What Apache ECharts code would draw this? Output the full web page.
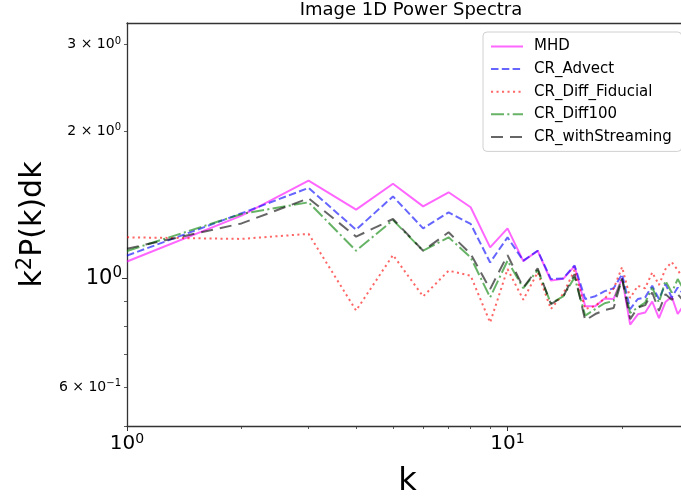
<!DOCTYPE html>
<html>
<head>
<meta charset="utf-8">
<script src="https://cdn.jsdelivr.net/npm/echarts@6/dist/echarts.min.js"></script>
<style>html,body{margin:0;padding:0;background:#fff;}#c{width:681px;height:497px;}</style>
</head>
<body>
<div id="c"></div>
<script>
// ---- data ----
const k = [1,2,3,4,5,6,7,8,9,10,11,12,13,14,15,16,17,18,19,20,21,22,23,24,25,26,27,28,29];
const MHD = [1.083,1.343,1.584,1.382,1.56,1.403,1.499,1.397,1.157,1.265,1.085,1.139,0.99,0.998,1.06,0.878,0.878,0.91,0.908,1.0,0.805,0.845,0.852,0.897,0.83,0.895,0.918,0.846,0.88];
const CR_Advect = [1.113,1.358,1.53,1.257,1.47,1.265,1.364,1.292,1.078,1.213,1.087,1.139,0.997,1.0,1.063,0.908,0.92,0.942,0.955,1.02,0.866,0.908,0.915,0.966,0.908,0.974,0.915,0.958,0.93];
const CR_Diff_Fiducial = [1.213,1.204,1.233,0.86,1.116,0.919,1.037,1.013,0.813,1.045,0.905,1.029,0.866,0.93,1.041,0.866,0.879,0.91,0.953,1.055,0.912,0.966,0.955,1.029,0.97,1.045,1.08,1.04,1.0];
const CR_Diff100 = [1.138,1.354,1.43,1.139,1.315,1.139,1.213,1.104,0.915,1.087,0.955,1.04,0.89,0.919,1.005,0.84,0.866,0.89,0.9,1.0,0.85,0.873,0.893,0.958,0.893,0.989,0.936,0.997,0.95];
const CR_withStreaming = [1.15,1.295,1.457,1.217,1.322,1.139,1.242,1.122,0.951,1.116,0.958,1.048,0.886,0.918,1.02,0.821,0.846,0.862,0.87,1.0,0.826,0.872,0.882,0.936,0.859,0.929,0.905,0.929,0.9];

const seriesNames = ['MHD','CR_Advect','CR_Diff_Fiducial','CR_Diff100','CR_withStreaming'];
const seriesValues = [MHD, CR_Advect, CR_Diff_Fiducial, CR_Diff100, CR_withStreaming];

// ticks
const xMajorTicks = [1, 10];
const xMajorLabels = [['10','0'], ['10','1']];
const xMinorTicks = [2,3,4,5,6,7,8,9,20];
const yMajorTicks = [1];
const yMajorLabels = [['10','0']];
const yMinorTicks = [0.5,0.6,0.7,0.8,0.9,2,3];
const yMinorLabelValues = [0.6, 2, 3];
const yMinorLabels = [['6 \u00d7 10','\u22121'], ['2 \u00d7 10','0'], ['3 \u00d7 10','0']];

const xRange = [1, 29.8];
const yRange = [0.5, 3.32];

// ---- styles ----
const colors = ['rgba(255,0,255,0.6)','rgba(0,0,255,0.6)','rgba(255,0,0,0.6)','rgba(0,128,0,0.6)','rgba(0,0,0,0.6)'];
const dashes = ['solid', [7.5,3.3], [2.1,3.4], [13,3.3,2.1,3.3], [12,7]];
const FONT = 'DejaVu Sans';
const spine = '#333';

function supFmt(pairs, values) {
  return function (v) {
    for (let i = 0; i < values.length; i++) {
      if (Math.abs(v - values[i]) < 1e-6 * values[i]) return '{b|' + pairs[i][0] + '}{s|' + pairs[i][1] + '}';
    }
    return '';
  };
}
function rich(base, sup) {
  return {
    b: {fontSize: base, fontFamily: FONT, color: '#000', lineHeight: Math.round(base*1.2)},
    s: {fontSize: sup, fontFamily: FONT, color: '#000', verticalAlign: 'top', lineHeight: Math.round(base*1.2)}
  };
}

const chart = echarts.init(document.getElementById('c'), null, {renderer: 'canvas'});
const option = {
  animation: false,
  backgroundColor: '#fff',
  title: {
    text: 'Image 1D Power Spectra',
    left: 406, top: -4, textAlign: 'center',
    textStyle: {fontFamily: FONT, fontSize: 18, fontWeight: 'normal', color: '#000'}
  },
  grid: {left: 127, right: -7, top: 23, bottom: 71, outerBoundsMode: 'none', containLabel: false},
  legend: {
    orient: 'vertical', left: 483, top: 32,
    data: seriesNames,
    itemWidth: 32, itemHeight: 14, itemGap: 7.6,
    padding: [7, 10, 7, 7],
    borderColor: '#d0d0d0', borderWidth: 1, borderRadius: 4,
    backgroundColor: 'rgba(255,255,255,0.8)',
    itemStyle: {opacity: 0},
    textStyle: {fontFamily: FONT, fontSize: 15, color: '#000', padding: [0,0,0,6]}
  },
  xAxis: [
    {
      type: 'log', logBase: 10, min: xRange[0], max: xRange[1], position: 'bottom',
      axisLine: {show: true, lineStyle: {color: spine, width: 1.3}},
      axisTick: {show: true, customValues: xMajorTicks, length: 5, lineStyle: {color: spine, width: 1}},
      axisLabel: {show: true, customValues: xMajorTicks, formatter: supFmt(xMajorLabels, xMajorTicks), rich: rich(20, 14), margin: 6},
      splitLine: {show: false}, minorTick: {show: false},
      name: 'k', nameLocation: 'middle', nameGap: 40,
      nameTextStyle: {fontFamily: FONT, fontSize: 32, color: '#000'}
    },
    {
      type: 'log', logBase: 10, min: xRange[0], max: xRange[1], position: 'bottom',
      axisLine: {show: false},
      axisTick: {show: true, customValues: xMinorTicks, length: 3, lineStyle: {color: spine, width: 0.8}},
      axisLabel: {show: false}, splitLine: {show: false}
    },
    {
      type: 'log', logBase: 10, min: xRange[0], max: xRange[1], position: 'top',
      axisLine: {show: true, lineStyle: {color: spine, width: 1.3}},
      axisTick: {show: false}, axisLabel: {show: false}, splitLine: {show: false}
    }
  ],
  yAxis: [
    {
      type: 'log', logBase: 10, min: yRange[0], max: yRange[1], position: 'left',
      axisLine: {show: true, lineStyle: {color: spine, width: 1.3}},
      axisTick: {show: true, customValues: yMajorTicks, length: 5, lineStyle: {color: spine, width: 1}},
      axisLabel: {show: true, customValues: yMajorTicks, formatter: supFmt(yMajorLabels, yMajorTicks), rich: rich(21, 15), margin: 5},
      splitLine: {show: false},
      name: '{b|k}{s|2}{b|P(k)dk}', nameLocation: 'middle', nameGap: 76,
      nameTextStyle: {rich: rich(30, 21)}
    },
    {
      type: 'log', logBase: 10, min: yRange[0], max: yRange[1], position: 'left',
      axisLine: {show: false},
      axisTick: {show: true, customValues: yMinorTicks, length: 3, lineStyle: {color: spine, width: 0.8}},
      axisLabel: {show: true, customValues: yMinorLabelValues, formatter: supFmt(yMinorLabels, yMinorLabelValues), rich: rich(14, 10), margin: 6},
      splitLine: {show: false}
    }
  ],
  series: seriesNames.map((name, i) => ({
    name: name, type: 'line', xAxisIndex: 0, yAxisIndex: 0,
    data: k.map((kk, j) => [kk, seriesValues[i][j]]),
    symbol: 'none', showSymbol: false,
    lineStyle: {color: colors[i], width: 2, type: dashes[i]},
    itemStyle: {color: colors[i]},
    clip: true
  }))
};
chart.setOption(option);
</script>
</body>
</html>
